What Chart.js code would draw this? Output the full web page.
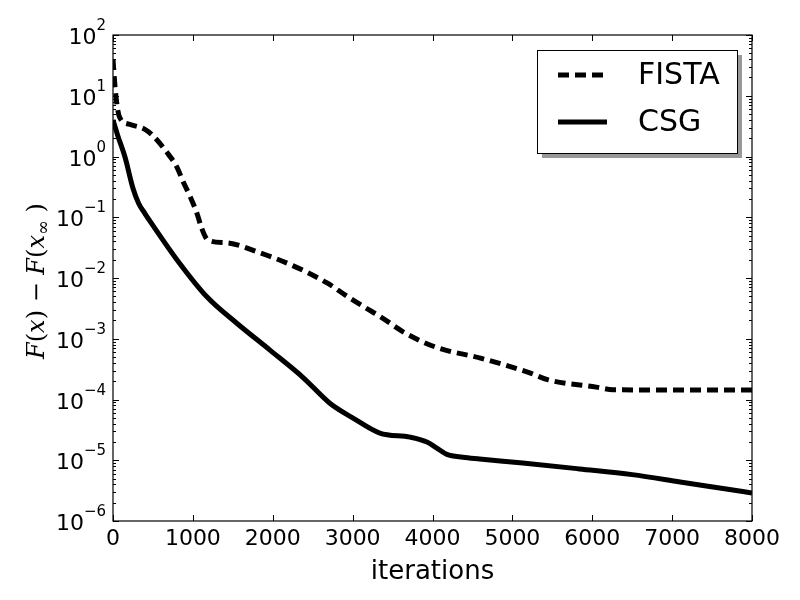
<!DOCTYPE html>
<html lang="en">
<head>
    <meta charset="UTF-8" />
    <script src="https://cdn.jsdelivr.net/npm/chart.js@4.4.1/dist/chart.umd.min.js"></script>
    <title>FISTA vs CSG</title>
    <style>
        body { margin: 0; background: #fff; }
    </style>
</head>
<body>
    <canvas id="chart" width="800" height="600"></canvas>
    <script>
        // values
        const fistaIter = [0, 30, 80, 200, 400, 500, 675, 800, 880, 965, 1050, 1110, 1190, 1425, 1840, 2250, 2680, 2940, 3150, 3350, 3650, 4050, 4600, 5200, 5450, 6050, 6260, 7000, 8000]
        const fistaVal = [40, 12, 4.5, 3.4, 2.8, 2.2, 1.17, 0.67, 0.38, 0.22, 0.117, 0.066, 0.042, 0.038, 0.026, 0.016, 0.0083, 0.0049, 0.0033, 0.0023, 0.00126, 0.00072, 0.00048, 0.00028, 0.00021, 0.00016, 0.000145, 0.000143, 0.000143]

        const csgIter = [0, 60, 150, 250, 320, 400, 480, 800, 1175, 1550, 1965, 2380, 2715, 3000, 3340, 3720, 3930, 4050, 4180, 4380, 4590, 5130, 5840, 6500, 7100, 7720, 8000]
        const csgVal = [4, 2.2, 0.98, 0.3, 0.17, 0.115, 0.08, 0.02, 0.0049, 0.0018, 0.00065, 0.00023, 0.000087, 0.00005, 0.000028, 0.000024, 0.00002, 0.000016, 0.0000125, 0.0000112, 0.0000105, 0.000009, 0.0000072, 0.0000058, 0.0000044, 0.0000033, 0.0000029]

        const xTicks = [0, 1000, 2000, 3000, 4000, 5000, 6000, 7000, 8000]
        const yExps = [-6, -5, -4, -3, -2, -1, 0, 1, 2]

        const toPoints = (xs, ys) => xs.map((x, i) => ({ x: x, y: ys[i] }))

        // frame, inward ticks, tick labels, axis titles and legend
        const decor = {
            id: 'decor',
            afterDraw(chart) {
                const ctx = chart.ctx
                const a = chart.chartArea
                const xs = chart.scales.x
                const ys = chart.scales.y
                ctx.save()
                ctx.strokeStyle = '#000'
                ctx.fillStyle = '#000'
                ctx.lineWidth = 1.2
                ctx.strokeRect(a.left, a.top, a.right - a.left, a.bottom - a.top)

                ctx.lineWidth = 1
                ctx.beginPath()
                xTicks.forEach(t => {
                    let px = Math.round(xs.getPixelForValue(t)) + 0.5
                    ctx.moveTo(px, a.bottom); ctx.lineTo(px, a.bottom - 6)
                    ctx.moveTo(px, a.top); ctx.lineTo(px, a.top + 6)
                })
                yExps.forEach(e => {
                    let py = Math.round(ys.getPixelForValue(Math.pow(10, e))) + 0.5
                    ctx.moveTo(a.left, py); ctx.lineTo(a.left + 6, py)
                    ctx.moveTo(a.right, py); ctx.lineTo(a.right - 6, py)
                    if (e < 2) {
                        for (let m = 2; m < 10; m++) {
                            let pm = Math.round(ys.getPixelForValue(m * Math.pow(10, e))) + 0.5
                            ctx.moveTo(a.left, pm); ctx.lineTo(a.left + 3, pm)
                            ctx.moveTo(a.right, pm); ctx.lineTo(a.right - 3, pm)
                        }
                    }
                })
                ctx.stroke()

                // x tick labels
                ctx.font = '22px "DejaVu Sans"'
                ctx.textAlign = 'center'
                ctx.textBaseline = 'top'
                xTicks.forEach(t => {
                    ctx.fillText(String(t), xs.getPixelForValue(t), a.bottom + 7)
                })

                // y tick labels 10^n
                yExps.forEach(e => {
                    let py = ys.getPixelForValue(Math.pow(10, e))
                    ctx.font = '15px "DejaVu Sans"'
                    ctx.textAlign = 'right'
                    ctx.textBaseline = 'alphabetic'
                    let ex = String(e).replace('-', '\u2212')
                    let ew = ctx.measureText(ex).width
                    ctx.fillText(ex, 106, py - 5)
                    ctx.font = '22px "DejaVu Sans"'
                    ctx.fillText('10', 106 - ew, py + 9)
                })

                // axis titles
                ctx.font = '26px "DejaVu Sans"'
                ctx.textAlign = 'center'
                ctx.textBaseline = 'alphabetic'
                ctx.fillText('iterations', (a.left + a.right) / 2, 579)

                ctx.save()
                ctx.translate(44, 281)
                ctx.rotate(-Math.PI / 2)
                const it = 'italic 24px "DejaVu Serif"'
                const up = '24px "DejaVu Serif"'
                const parts = [
                    [it, 'F', 0], [up, '(', 0], [it, 'x', 0], [up, ')', 0],
                    [up, ' \u2212 ', 0],
                    [it, 'F', 0], [up, '(', 0], [it, 'x', 0],
                    ['18px "DejaVu Serif"', '\u221e', 5],
                    [up, ' )', 0]
                ]
                let total = 0
                parts.forEach(p => { ctx.font = p[0]; total += ctx.measureText(p[1]).width })
                let cx = -total / 2
                ctx.textAlign = 'left'
                parts.forEach(p => {
                    ctx.font = p[0]
                    ctx.fillText(p[1], cx, p[2])
                    cx += ctx.measureText(p[1]).width
                })
                ctx.restore()

                // legend box with shadow
                const bx = 537, by = 50, bw = 200, bh = 103
                ctx.fillStyle = '#999'
                ctx.fillRect(bx + 5, by + 5, bw, bh)
                ctx.fillStyle = '#fff'
                ctx.fillRect(bx, by, bw, bh)
                ctx.strokeStyle = '#000'
                ctx.lineWidth = 1
                ctx.strokeRect(bx + 0.5, by + 0.5, bw, bh)
                chart.data.datasets.forEach((ds, i) => {
                    let ly = 75 + i * 47
                    ctx.strokeStyle = ds.borderColor
                    ctx.lineWidth = ds.borderWidth
                    ctx.setLineDash(ds.borderDash || [])
                    ctx.beginPath()
                    ctx.moveTo(558, ly); ctx.lineTo(607, ly)
                    ctx.stroke()
                    ctx.setLineDash([])
                    ctx.fillStyle = '#000'
                    ctx.font = '30px "DejaVu Sans"'
                    ctx.textAlign = 'left'
                    ctx.textBaseline = 'middle'
                    ctx.fillText(ds.label, 638, ly + 1)
                })
                ctx.restore()
            }
        }

        let ctx = document.getElementById('chart')
        let myChart = new Chart(ctx, {
            type: 'line',
            data: {
                datasets: [
                    {
                        label: 'FISTA',
                        data: toPoints(fistaIter, fistaVal),
                        borderColor: '#000',
                        borderWidth: 5,
                        borderDash: [11, 6],
                        pointRadius: 0,
                        fill: false,
                        cubicInterpolationMode: 'monotone'
                    },
                    {
                        label: 'CSG',
                        data: toPoints(csgIter, csgVal),
                        borderColor: '#000',
                        borderWidth: 5,
                        pointRadius: 0,
                        fill: false,
                        cubicInterpolationMode: 'monotone'
                    }
                ]
            },
            options: {
                responsive: false,
                animation: false,
                layout: { padding: { left: 113, right: 48, top: 35, bottom: 79 } },
                plugins: { legend: { display: false }, tooltip: { enabled: false } },
                scales: {
                    x: { type: 'linear', min: 0, max: 8000, display: false },
                    y: { type: 'logarithmic', min: 1e-6, max: 1e2, display: false }
                }
            },
            plugins: [decor]
        })
    </script>
</body>
</html>
